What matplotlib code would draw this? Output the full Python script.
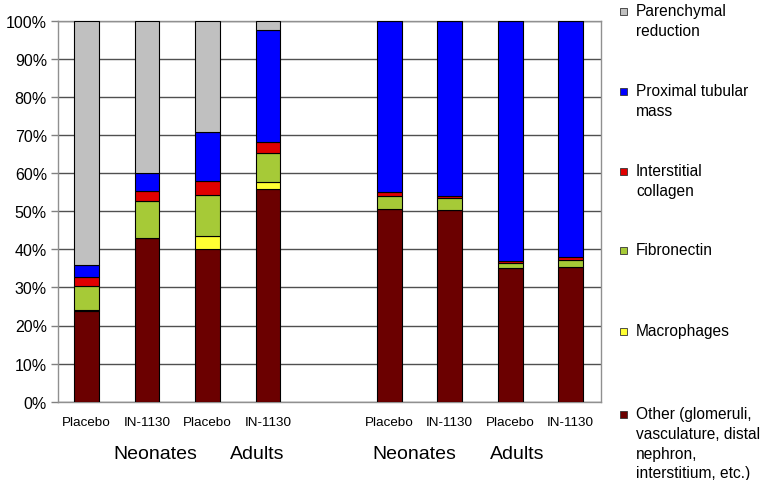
import matplotlib
matplotlib.use("Agg")
import matplotlib.pyplot as plt
from matplotlib.patches import Rectangle
import numpy as np

plt.rcParams['font.family'] = ['Liberation Sans', 'DejaVu Sans']

# Data (percent of total change), bottom to top
bar_labels = ["Placebo", "IN-1130", "Placebo", "IN-1130",
              "Placebo", "IN-1130", "Placebo", "IN-1130"]
slots = [0, 1, 2, 3, 5, 6, 7, 8]
group_labels = ["Neonates", "Adults", "Neonates", "Adults"]
group_pos = [1.14, 2.82, 5.42, 7.11]

other = [23.7, 42.9, 40.1, 55.8, 50.5, 50.2, 35.0, 35.3]
macrophages = [0.3, 0.0, 3.5, 1.9, 0.0, 0.0, 0.0, 0.0]
fibronectin = [6.4, 9.9, 10.7, 7.5, 3.6, 3.2, 1.3, 1.9]
collagen = [2.4, 2.4, 3.7, 3.0, 0.9, 0.5, 0.6, 0.8]
proximal = [3.1, 4.8, 12.9, 29.3, 45.0, 46.1, 63.1, 62.0]
parenchymal = [64.1, 40.0, 29.1, 2.5, 0.0, 0.0, 0.0, 0.0]

series = [other, macrophages, fibronectin, collagen, proximal, parenchymal]
series_names = ["Other (glomeruli,\nvasculature, distal\nnephron,\ninterstitium, etc.)",
                "Macrophages", "Fibronectin", "Interstitial\ncollagen",
                "Proximal tubular\nmass", "Parenchymal\nreduction"]
colors = ["#6B0000", "#FFFF33", "#A6CA37", "#E00000", "#0000FF", "#C0C0C0"]

fig = plt.figure(figsize=(7.62, 4.81), dpi=100)
ax = fig.add_axes([58/762, 1-402.7/481, (601-58)/762, (402.7-21.7)/481])

bottom = np.zeros(len(slots))
for vals, col in zip(series, colors):
    v = np.array(vals)
    ax.bar(slots, v, bottom=bottom, width=0.41, color=col,
           edgecolor="black", linewidth=0.8, zorder=3)
    bottom += v

ax.set_ylim(0, 100)
ax.set_xlim(-0.47, 8.5)
ax.set_yticks(np.arange(0, 101, 10))
ax.set_yticklabels([f"{t}%" for t in range(0, 101, 10)], fontsize=11.5)
ax.yaxis.grid(True, color="#505050", linewidth=1.0, zorder=0)
ax.set_axisbelow(True)
ax.tick_params(axis="y", length=5, color="#808080", width=1, pad=3)
ax.set_xticks(slots)
ax.set_xticklabels(bar_labels, fontsize=9.7)
ax.tick_params(axis="x", length=0, pad=10)
for s in ax.spines.values():
    s.set_color("#909090")
    s.set_linewidth(1.0)

for lab, p in zip(group_labels, group_pos):
    ax.text(p, -0.137, lab, transform=ax.get_xaxis_transform(),
            ha="center", va="center", fontsize=14)

# Legend (top to bottom)
leg_y = [12, 92, 172, 251, 332, 415]
for i, (name, col) in enumerate(zip(series_names[::-1], colors[::-1])):
    y = leg_y[i]
    fig.patches.append(Rectangle((620/762, 1-(y+3.5)/481), 7/762, 7/481,
                                 transform=fig.transFigure,
                                 facecolor=col, edgecolor="#333333",
                                 linewidth=0.6))
    fig.text(636/762, 1-(y-8)/481, name, ha="left", va="top",
             fontsize=11.2, linespacing=1.4)

fig.savefig("out.png", dpi=100)
